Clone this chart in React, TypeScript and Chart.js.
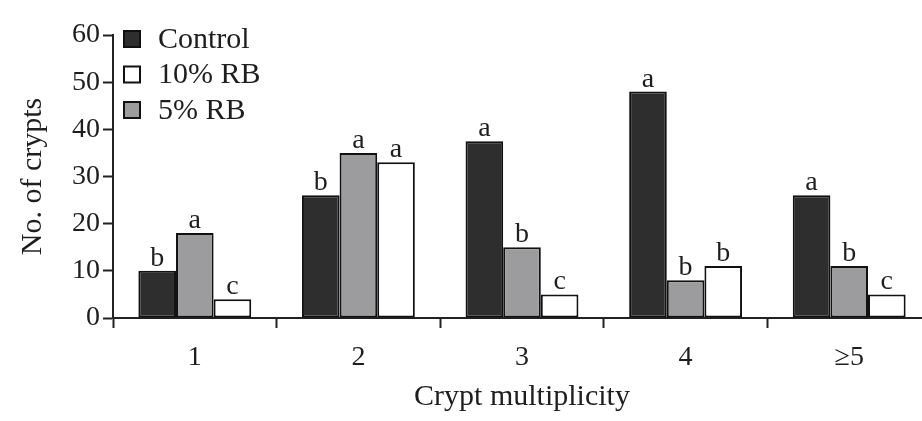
import React, { useEffect, useRef } from "react";
import { Chart, registerables } from "chart.js";

Chart.register(...registerables);

const categories = ["1", "2", "3", "4", "\u22655"];
const controlValues = [10, 26, 37.5, 48, 26];
const rb5Values = [18, 35, 15, 8, 11];
const rb10Values = [4, 33, 5, 11, 5];
const controlLetters = ["b", "b", "a", "a", "a"];
const rb5Letters = ["a", "a", "b", "b", "b"];
const rb10Letters = ["c", "a", "c", "b", "c"];
const yTicks = [0, 10, 20, 30, 40, 50, 60];
const legendOrder = ["Control", "10% RB", "5% RB"];

const FONT = "'Liberation Serif', 'Times New Roman', serif";
const TEXT = "#1e1e1e";

const lettersPlugin = {
  id: "sigLetters",
  afterDatasetsDraw(chart: any) {
    const ctx = chart.ctx;
    ctx.save();
    ctx.font = `28px ${FONT}`;
    ctx.fillStyle = TEXT;
    ctx.textAlign = "center";
    ctx.textBaseline = "alphabetic";
    chart.data.datasets.forEach((ds: any, di: number) => {
      const meta = chart.getDatasetMeta(di);
      meta.data.forEach((bar: any, i: number) => {
        const l = ds.letters[i];
        if (l) ctx.fillText(l, bar.x, bar.y - 5);
      });
    });
    ctx.restore();
  },
};

const legendPlugin = {
  id: "customLegend",
  afterDraw(chart: any) {
    const ctx = chart.ctx;
    const x0 = chart.chartArea.left + 10;
    const y0 = 39;
    const step = 35.5;
    ctx.save();
    ctx.font = `30px ${FONT}`;
    ctx.textBaseline = "middle";
    ctx.textAlign = "left";
    legendOrder.forEach((name, k) => {
      const ds = chart.data.datasets.find((d: any) => d.label === name);
      const y = y0 + k * step;
      ctx.fillStyle = ds.backgroundColor;
      ctx.fillRect(x0, y - 9, 18, 18);
      ctx.lineWidth = 2;
      ctx.strokeStyle = "#111";
      ctx.strokeRect(x0 + 1, y - 8, 16, 16);
      ctx.fillStyle = TEXT;
      ctx.fillText(name, x0 + 35, y + 1);
    });
    ctx.restore();
  },
};

export default function App() {
  const ref = useRef<HTMLCanvasElement>(null);
  useEffect(() => {
    if (!ref.current) return;
    const chart = new Chart(ref.current, {
      type: "bar",
      data: {
        labels: categories,
        datasets: [
          { label: "Control", data: controlValues, backgroundColor: "#2e2e2e", letters: controlLetters } as any,
          { label: "5% RB", data: rb5Values, backgroundColor: "#9c9b9d", letters: rb5Letters } as any,
          { label: "10% RB", data: rb10Values, backgroundColor: "#ffffff", letters: rb10Letters } as any,
        ].map((d: any) => ({
          ...d,
          borderColor: "#111",
          borderWidth: 2,
          borderSkipped: false,
          categoryPercentage: 0.69,
          barPercentage: 1,
        })),
      },
      options: {
        animation: false,
        responsive: false,
        layout: { padding: { top: 35, right: 0, left: 0, bottom: 0 } },
        plugins: { legend: { display: false }, tooltip: { enabled: false } },
        scales: {
          x: {
            offset: true,
            grid: { offset: true, drawOnChartArea: false, tickLength: 10, tickWidth: 2, color: "#222" },
            border: { display: true, width: 2, color: "#222" },
            ticks: { font: { family: FONT, size: 28 }, color: TEXT, padding: 13 },
            title: {
              display: true,
              text: "Crypt multiplicity",
              font: { family: FONT, size: 30 },
              color: TEXT,
              padding: { top: 0, bottom: 6 },
            },
            afterFit(scale: any) {
              scale.height = 103;
            },
          },
          y: {
            min: 0,
            max: 60,
            afterBuildTicks(scale: any) {
              scale.ticks = yTicks.map((v) => ({ value: v }));
            },
            grid: { drawOnChartArea: false, tickLength: 10, tickWidth: 2, color: "#222" },
            border: { display: true, width: 2, color: "#222" },
            ticks: { font: { family: FONT, size: 28 }, color: TEXT, padding: 3 },
            title: {
              display: true,
              text: "No. of crypts",
              font: { family: FONT, size: 30 },
              color: TEXT,
              padding: { top: 15, bottom: 0 },
            },
            afterFit(scale: any) {
              scale.width = 113;
            },
          },
        },
      },
      plugins: [lettersPlugin, legendPlugin],
    } as any);
    return () => chart.destroy();
  }, []);
  return (
    <div style={{ position: "absolute", left: 0, top: 0, width: 922, height: 421, overflow: "hidden", background: "#fff" }}>
      <canvas ref={ref} width={931} height={421} style={{ display: "block" }} />
    </div>
  );
}
